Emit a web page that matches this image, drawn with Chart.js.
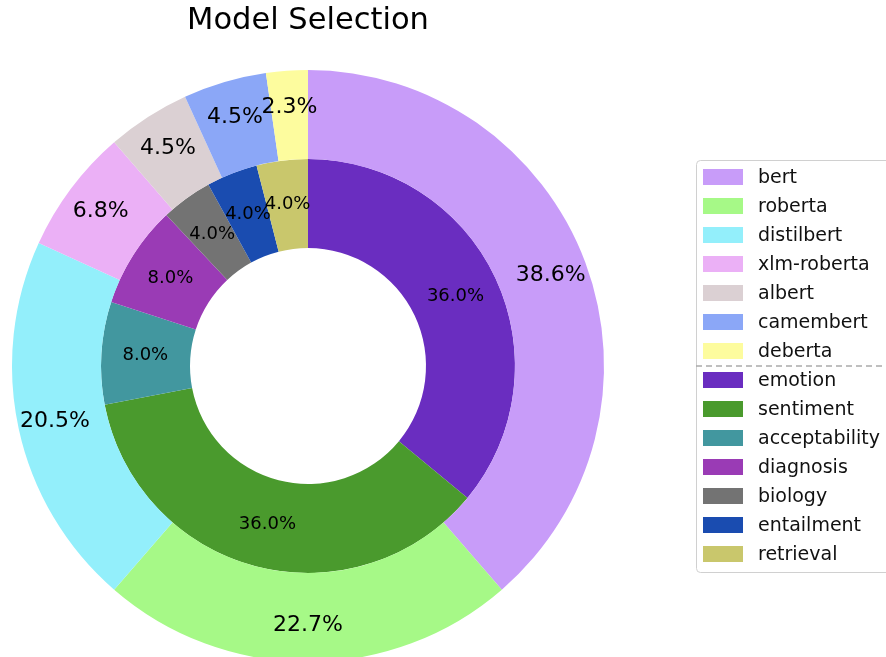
<!DOCTYPE html>
<html>
<head>
<meta charset="utf-8">
<script src="https://cdn.jsdelivr.net/npm/chart.js@4/dist/chart.umd.min.js"></script>
<style>
  html, body { margin: 0; padding: 0; background: #fff; }
  #wrap { width: 886px; height: 657px; }
</style>
</head>
<body>
<div id="wrap"><canvas id="myChart" width="886" height="657"></canvas></div>
<script>
// 바깥 링: 모델
const modelLabels = ["bert", "roberta", "distilbert", "xlm-roberta", "albert", "camembert", "deberta"];
const modelCounts = [17, 10, 9, 3, 2, 2, 1];
const modelColors = ["#c89cf9", "#a6f987", "#93effb", "#ebb0f6", "#dbd0d3", "#8ba7f7", "#fdfc9e"];

// 안쪽 링: 태스크
const taskLabels = ["emotion", "sentiment", "acceptability", "diagnosis", "biology", "entailment", "retrieval"];
const taskCounts = [9, 9, 2, 2, 1, 1, 1];
const taskColors = ["#6a2dc0", "#4a9a2d", "#42979f", "#9a3bb5", "#737373", "#1a4cb0", "#c9c76c"];

const FONT = "'DejaVu Sans', sans-serif";

// 퍼센트 라벨 그리기
const pctLabels = {
  id: "pctLabels",
  afterDatasetsDraw(chart) {
    const ctx = chart.ctx;
    const setup = [
      { r: 259, size: 22 },
      { r: 163, size: 18 },
    ];
    chart.data.datasets.forEach((ds, i) => {
      const meta = chart.getDatasetMeta(i);
      const total = ds.data.reduce((a, b) => a + b, 0);
      ctx.save();
      ctx.font = setup[i].size + "px " + FONT;
      ctx.fillStyle = "#000";
      ctx.textAlign = "center";
      ctx.textBaseline = "middle";
      meta.data.forEach((arc, j) => {
        const mid = (arc.startAngle + arc.endAngle) / 2;
        const x = arc.x + Math.cos(mid) * setup[i].r;
        const y = arc.y + Math.sin(mid) * setup[i].r;
        const pct = (ds.data[j] / total * 100).toFixed(1) + "%";
        ctx.fillText(pct, x, y);
      });
      ctx.restore();
    });
  },
};

// 범례 (두 그룹 사이 점선)
const sideLegend = {
  id: "sideLegend",
  afterDraw(chart) {
    const ctx = chart.ctx;
    const left = 696, top = 160, bottom = 572;
    ctx.save();
    ctx.strokeStyle = "#d0d0d0";
    ctx.lineWidth = 1;
    ctx.beginPath();
    ctx.roundRect(left + 0.5, top + 0.5, 220, bottom - top, 4);
    ctx.stroke();

    const items = [];
    chart.data.datasets.forEach((ds) => {
      ds.labels.forEach((lab, j) => items.push({ text: lab, color: ds.backgroundColor[j] }));
    });

    ctx.font = "19px " + FONT;
    ctx.textBaseline = "middle";
    ctx.textAlign = "left";
    items.forEach((it, k) => {
      const y = 177 + k * 29;
      ctx.fillStyle = it.color;
      ctx.fillRect(703, y - 8, 40, 16);
      ctx.fillStyle = "#111";
      ctx.fillText(it.text, 758, y + 1);
    });

    // 점선 구분
    ctx.strokeStyle = "#aaaaaa";
    ctx.lineWidth = 1.5;
    ctx.setLineDash([6, 4]);
    ctx.beginPath();
    ctx.moveTo(left, 366);
    ctx.lineTo(886, 366);
    ctx.stroke();
    ctx.restore();
  },
};

const ctx = document.getElementById("myChart").getContext("2d");
const myChart = new Chart(ctx, {
  type: "doughnut",
  data: {
    labels: modelLabels,
    datasets: [
      {
        labels: modelLabels,
        data: modelCounts,
        backgroundColor: modelColors,
        borderWidth: 0,
        clip: false,
      },
      {
        labels: taskLabels,
        data: taskCounts,
        backgroundColor: taskColors,
        borderWidth: 0,
        clip: false,
      },
    ],
  },
  options: {
    responsive: false,
    animation: false,
    radius: 296,
    cutout: 116,
    layout: {
      padding: { left: 12, right: 282, top: 0, bottom: 0 },
    },
    plugins: {
      legend: { display: false },
      tooltip: { enabled: false },
      title: {
        display: true,
        text: "Model Selection",
        color: "#000",
        font: { family: FONT, size: 30.5, weight: "normal" },
        padding: { top: 3, bottom: 35.4 },
      },
    },
  },
  plugins: [pctLabels, sideLegend],
});
</script>
</body>
</html>
